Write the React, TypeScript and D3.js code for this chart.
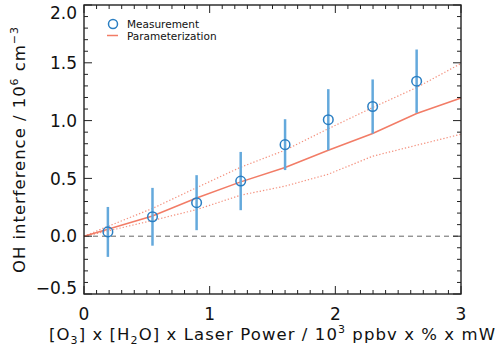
import React from 'react';
import * as d3 from 'd3';

// measurement points
const measX = [0.19, 0.545, 0.896, 1.247, 1.6, 1.944, 2.297, 2.647];
const measY = [0.037, 0.168, 0.29, 0.477, 0.792, 1.008, 1.122, 1.341];
const measErr = [0.216, 0.25, 0.238, 0.252, 0.22, 0.264, 0.234, 0.274];

// parameterization (solid) and its bounds (dotted)
const paramX = [0, 0.19, 0.545, 0.896, 1.247, 1.6, 1.944, 2.297, 2.647, 3.0];
const paramY = [0, 0.06, 0.175, 0.33, 0.47, 0.594, 0.744, 0.888, 1.061, 1.196];
const upperY = [0, 0.085, 0.24, 0.42, 0.597, 0.744, 0.93, 1.113, 1.286, 1.494];
const lowerY = [0, 0.045, 0.136, 0.23, 0.355, 0.433, 0.536, 0.692, 0.787, 0.882];

const xTicks = [0, 1, 2, 3];
const yTicks = [-0.5, 0, 0.5, 1.0, 1.5, 2.0];

const W = 500, H = 351;
const left = 84, right = 461, top = 5, bottom = 294;
const font = '"DejaVu Sans", Verdana, sans-serif';
const blue = '#2a7ec2';
const barBlue = '#64a9dc';
const salmon = '#f27c66';

export default function App() {
  const x = d3.scaleLinear().domain([0, 3]).range([left, right]);
  const y = d3.scaleLinear().domain([-0.5, 2.0]).range([bottom, top]);

  const line = d3.line<number>().x((d, i) => x(paramX[i])).y(d => y(d));

  const xMinor = d3.range(0, 30).map(i => i / 10).filter(v => Math.abs(v - Math.round(v)) > 1e-6);
  const yMinor = d3.range(-5, 21).map(i => i / 10).filter(v => Math.abs(v * 2 - Math.round(v * 2)) > 1e-6);

  const majLen = 8, minLen = 4;

  return (
    <svg width={W} height={H} style={{position: 'absolute', left: 0, top: 0, background: '#fff'}} fontFamily={font}>
      {/* zero line */}
      <line x1={x(0)} x2={x(3)} y1={y(0)} y2={y(0)} stroke="#666" strokeWidth={1} strokeDasharray="5,4" />

      {/* bounds + parameterization */}
      <path d={line(upperY) || ''} fill="none" stroke={salmon} strokeOpacity={0.85} strokeWidth={1.2} strokeDasharray="1.3,2" />
      <path d={line(lowerY) || ''} fill="none" stroke={salmon} strokeOpacity={0.85} strokeWidth={1.2} strokeDasharray="1.3,2" />
      <path d={line(paramY) || ''} fill="none" stroke={salmon} strokeWidth={1.5} />

      {/* error bars and points */}
      {measX.map((mx, i) => (
        <g key={i}>
          <line x1={x(mx)} x2={x(mx)} y1={y(measY[i] - measErr[i])} y2={y(measY[i] + measErr[i])}
            stroke={barBlue} strokeWidth={2.5} />
          <circle cx={x(mx)} cy={y(measY[i])} r={4.8} fill="none" stroke={blue} strokeWidth={1.5} />
        </g>
      ))}

      {/* frame */}
      <rect x={left} y={top} width={right - left} height={bottom - top} fill="none" stroke="#222" strokeWidth={1.4} />

      {/* x ticks (bottom and top) */}
      {xTicks.map(v => (
        <g key={'xt' + v}>
          <line x1={x(v)} x2={x(v)} y1={bottom} y2={bottom - majLen} stroke="#222" strokeWidth={1} />
          <line x1={x(v)} x2={x(v)} y1={top} y2={top + majLen} stroke="#222" strokeWidth={1} />
          <text x={x(v)} y={320} textAnchor="middle" fontSize={17} fill="#111">{v}</text>
        </g>
      ))}
      {xMinor.map(v => (
        <g key={'xm' + v}>
          <line x1={x(v)} x2={x(v)} y1={bottom} y2={bottom - minLen} stroke="#222" strokeWidth={1} />
          <line x1={x(v)} x2={x(v)} y1={top} y2={top + minLen} stroke="#222" strokeWidth={1} />
        </g>
      ))}

      {/* y ticks (left and right) */}
      {yTicks.map(v => (
        <g key={'yt' + v}>
          <line x1={left} x2={left + majLen} y1={y(v)} y2={y(v)} stroke="#222" strokeWidth={1} />
          <line x1={right} x2={right - majLen} y1={y(v)} y2={y(v)} stroke="#222" strokeWidth={1} />
          <text x={77} y={Math.max(13, Math.min(288, y(v)))} dy="0.36em" textAnchor="end" fontSize={17} fill="#111">
            {v < 0 ? '\u2212' + Math.abs(v).toFixed(1) : v.toFixed(1)}
          </text>
        </g>
      ))}
      {yMinor.map(v => (
        <g key={'ym' + v}>
          <line x1={left} x2={left + minLen} y1={y(v)} y2={y(v)} stroke="#222" strokeWidth={1} />
          <line x1={right} x2={right - minLen} y1={y(v)} y2={y(v)} stroke="#222" strokeWidth={1} />
        </g>
      ))}

      {/* axis titles */}
      <text x={49} y={340} fontSize={16.5} fill="#111" textLength={446} lengthAdjust="spacing">
        [O<tspan fontSize={11} dy={4}>3</tspan><tspan dy={-4}>] x [H</tspan>
        <tspan fontSize={11} dy={4}>2</tspan><tspan dy={-4}>O] x Laser Power / 10</tspan>
        <tspan fontSize={11} dy={-7}>3</tspan><tspan dy={7}> ppbv x % x mW</tspan>
      </text>
      <text transform={`translate(25,273) rotate(-90)`} fontSize={16.5} fill="#111" textLength={246} lengthAdjust="spacing">
        OH interference / 10<tspan fontSize={11} dy={-7}>6</tspan><tspan dy={7}> cm</tspan>
        <tspan fontSize={11} dy={-7}>{'\u22123'}</tspan>
      </text>

      {/* legend */}
      <circle cx={113} cy={24} r={4.5} fill="none" stroke={blue} strokeWidth={1.5} />
      <text x={127} y={27.5} fontSize={10.5} fill="#111">Measurement</text>
      <line x1={107} x2={118} y1={35.5} y2={35.5} stroke={salmon} strokeWidth={1.5} />
      <text x={127} y={39.5} fontSize={10.5} fill="#111">Parameterization</text>
    </svg>
  );
}
